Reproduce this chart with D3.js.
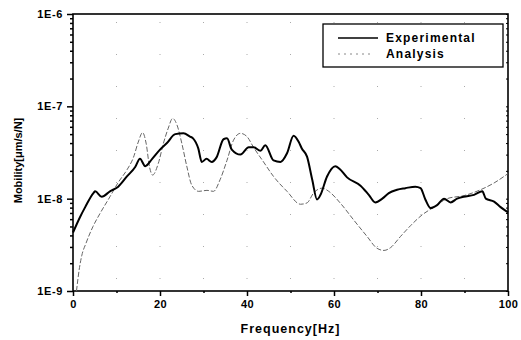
<!DOCTYPE html>
<html>
<head>
<meta charset="utf-8">
<script src="https://cdn.jsdelivr.net/npm/d3@7"></script>
<style>
  body { margin: 0; background: #fff; }
  text { font-family: "Liberation Sans", Arial, sans-serif; font-weight: bold; }
</style>
</head>
<body>
<div id="chart"></div>
<script>
const width = 521,
      height = 340;

const margin = { top: 14, right: 13, bottom: 49, left: 73 };

// Experimental mobility (Hz, m/s/N)
const expFreq = [0, 1.6, 2.8, 4.7, 5.1, 6.6, 8.5, 10.4, 12.4, 14.3, 15.4, 16.6, 18.2, 20,
  21.6, 23.5, 25.4, 26.9, 27.6, 28.8, 29.6, 30.7, 31.9, 33, 34.6, 35.4, 36.5, 38.5, 40.4,
  41.5, 43.1, 44.2, 46.1, 47.7, 49.2, 50.7, 51.9, 52.6, 53.8, 55, 56.1, 56.9, 58.4, 60.3,
  61.3, 63, 66.1, 68, 69.5, 71.1, 72.6, 74.5, 76.4, 78.7, 79.9, 81, 82.2, 83.7, 85.3, 86.8,
  88.3, 89.8, 92.2, 94.1, 94.9, 96.8, 98.3, 100];
const expVal = [4.3e-9, 6.3e-9, 8.1e-9, 1.15e-8, 1.2e-8, 1.05e-8, 1.2e-8, 1.35e-8, 1.74e-8, 2.2e-8,
  2.7e-8, 2.25e-8, 2.7e-8, 3.4e-8, 4e-8, 5e-8, 5.1e-8, 4.7e-8, 4.5e-8, 3.5e-8, 2.5e-8, 2.7e-8,
  2.5e-8, 2.8e-8, 4.4e-8, 4.5e-8, 3.4e-8, 3e-8, 3.6e-8, 3.6e-8, 3.3e-8, 3.8e-8, 2.6e-8, 2.5e-8,
  3.1e-8, 4.8e-8, 4.1e-8, 3.5e-8, 2.85e-8, 1.6e-8, 9.8e-9, 1.1e-8, 1.74e-8, 2.25e-8, 2.1e-8,
  1.7e-8, 1.38e-8, 1.1e-8, 9.1e-9, 1e-8, 1.15e-8, 1.25e-8, 1.3e-8, 1.35e-8, 1.3e-8, 9.8e-9,
  7.9e-9, 8.5e-9, 1e-8, 9.1e-9, 1e-8, 1.05e-8, 1.1e-8, 1.2e-8, 1e-8, 9.3e-9, 8.1e-9, 7.1e-9];

// Analysis mobility
const anaFreq = [0.8, 1.5, 2, 3, 4.6, 6.2, 8.5, 10.4, 12.4, 13.9, 15, 16, 16.8, 17.6, 18.3, 19.6,
  20.8, 21.9, 22.9, 23.9, 25, 26.2, 27.3, 28.9, 30.8, 32.3, 33.8, 35.4, 36.9, 38.5, 40, 41.5,
  43.8, 46.1, 49.2, 52.3, 53.8, 55.3, 57.3, 58.8, 61.5, 64.5, 67.6, 69.9, 71.5, 73, 75.3,
  77.6, 80.3, 83, 86, 89.9, 93.7, 96.8, 100];
const anaVal = [1e-9, 1.8e-9, 2.4e-9, 3.3e-9, 5e-9, 6.9e-9, 1.05e-8, 1.5e-8, 2.05e-8, 2.8e-8,
  4.1e-8, 5.2e-8, 4e-8, 2.2e-8, 1.8e-8, 2.4e-8, 4e-8, 5.8e-8, 7.4e-8, 6.3e-8, 4e-8, 2.2e-8,
  1.4e-8, 1.2e-8, 1.23e-8, 1.2e-8, 1.6e-8, 2.6e-8, 4.3e-8, 5.1e-8, 4.7e-8, 3.6e-8, 2.5e-8,
  1.74e-8, 1.2e-8, 8.7e-9, 9e-9, 1.15e-8, 1.3e-8, 1.2e-8, 8.9e-9, 5.9e-9, 3.9e-9, 2.9e-9,
  2.75e-9, 2.95e-9, 3.9e-9, 5.1e-9, 6.7e-9, 8.1e-9, 1e-8, 1.08e-8, 1.25e-8, 1.48e-8, 1.87e-8];

const xTicks = [0, 20, 40, 60, 80, 100];
const xMinorTicks = [10, 30, 50, 70, 90];
const yTicks = [1e-9, 1e-8, 1e-7, 1e-6];
const yTickLabels = ["1E-9", "1E-8", "1E-7", "1E-6"];

const x = d3.scaleLinear()
    .domain([0, 100])
    .range([margin.left, width - margin.right]);

const y = d3.scaleLog()
    .domain([1e-9, 1e-6])
    .range([height - margin.bottom, margin.top]);

const svg = d3.select("#chart")
  .append("svg")
    .attr("width", width)
    .attr("height", height);

// faint scanned grid dots
const grid = svg.append("g")
    .attr("stroke", "#aaa")
    .attr("stroke-width", 1)
    .attr("stroke-dasharray", "1,31");

grid.selectAll("line")
  .data(xMinorTicks.concat([20, 40, 60, 80]))
  .enter()
  .append("line")
    .attr("x1", d => x(d))
    .attr("x2", d => x(d))
    .attr("y1", y(1e-6) + 8)
    .attr("y2", y(1e-9) - 6);

// Axes
const yMinor = [];
for (let e = -9; e < -6; e++) {
  for (let k = 2; k <= 9; k++) yMinor.push(k * Math.pow(10, e));
}

svg.append("g")
    .attr("transform", `translate(${margin.left},0)`)
    .call(d3.axisLeft(y).tickValues(yMinor).tickSize(3).tickFormat(""))
    .call(g => g.select(".domain").remove())
    .call(g => g.selectAll("line").attr("stroke-width", 1.5));

svg.append("g")
    .attr("transform", `translate(${margin.left},0)`)
    .call(d3.axisLeft(y).tickValues(yTicks).tickSize(6).tickPadding(4)
        .tickFormat((d, i) => yTickLabels[i]))
    .call(g => g.select(".domain").remove())
    .call(g => g.selectAll("line").attr("stroke-width", 1.5))
    .call(g => g.selectAll("text").attr("font-size", 11).attr("letter-spacing", 0.6)
        .attr("font-family", "Liberation Sans, Arial, sans-serif"));

svg.append("g")
    .attr("transform", `translate(${width - margin.right},0)`)
    .call(d3.axisRight(y).tickValues(yMinor.concat(yTicks)).tickSize(-2).tickFormat(""))
    .call(g => g.select(".domain").remove());

svg.append("g")
    .attr("transform", `translate(0,${height - margin.bottom})`)
    .call(d3.axisBottom(x).tickValues(xMinorTicks).tickSize(2).tickFormat(""))
    .call(g => g.select(".domain").remove())
    .call(g => g.selectAll("line").attr("stroke-width", 1.5));

svg.append("g")
    .attr("transform", `translate(0,${height - margin.bottom})`)
    .call(d3.axisBottom(x).tickValues(xTicks).tickSize(5).tickPadding(4).tickFormat(d3.format("d")))
    .call(g => g.select(".domain").remove())
    .call(g => g.selectAll("line").attr("stroke-width", 1.5))
    .call(g => g.selectAll("text").attr("font-size", 11).attr("letter-spacing", 0.4)
        .attr("font-family", "Liberation Sans, Arial, sans-serif"));

// Frame
svg.append("rect")
    .attr("x", x(0))
    .attr("y", y(1e-6))
    .attr("width", x(100) - x(0))
    .attr("height", y(1e-9) - y(1e-6))
    .attr("fill", "none")
    .attr("stroke", "#000")
    .attr("stroke-width", 1.6);

// Lines
const expData = expFreq.map((f, i) => ({ f: f, v: expVal[i] }));
const anaData = anaFreq.map((f, i) => ({ f: f, v: anaVal[i] }));

const line = d3.line()
    .x(d => x(d.f))
    .y(d => y(d.v))
    .curve(d3.curveMonotoneX);

svg.append("path")
    .datum(anaData)
    .attr("fill", "none")
    .attr("stroke", "#666")
    .attr("stroke-width", 1)
    .attr("stroke-dasharray", "5,2")
    .attr("d", line);

svg.append("path")
    .datum(expData)
    .attr("fill", "none")
    .attr("stroke", "#000")
    .attr("stroke-width", 2)
    .attr("stroke-linejoin", "round")
    .attr("d", line);

// Legend
const legend = svg.append("g")
    .attr("transform", "translate(323,24)");

legend.append("rect")
    .attr("width", 180)
    .attr("height", 43)
    .attr("fill", "#fff")
    .attr("stroke", "#000")
    .attr("stroke-width", 1.3);

legend.append("line")
    .attr("x1", 15).attr("x2", 55)
    .attr("y1", 14).attr("y2", 14)
    .attr("stroke", "#000")
    .attr("stroke-width", 1.3);

legend.append("line")
    .attr("x1", 15).attr("x2", 47)
    .attr("y1", 30).attr("y2", 30)
    .attr("stroke", "#888")
    .attr("stroke-width", 1)
    .attr("stroke-dasharray", "2,4");

legend.append("text")
    .attr("x", 63).attr("y", 14)
    .attr("dy", "0.35em")
    .attr("font-size", 12)
    .attr("letter-spacing", 1.2)
    .text("Experimental");

legend.append("text")
    .attr("x", 63).attr("y", 30)
    .attr("dy", "0.35em")
    .attr("font-size", 12)
    .attr("letter-spacing", 1.2)
    .text("Analysis");

// Axis titles
svg.append("text")
    .attr("x", (x(0) + x(100)) / 2)
    .attr("y", 329)
    .attr("text-anchor", "middle")
    .attr("dy", "0.35em")
    .attr("font-size", 12.5)
    .attr("letter-spacing", 1)
    .text("Frequency[Hz]");

svg.append("text")
    .attr("transform", `translate(18,${(y(1e-6) + y(1e-9)) / 2 + 8}) rotate(-90)`)
    .attr("text-anchor", "middle")
    .attr("dy", "0.35em")
    .attr("font-size", 11)
    .text("Mobility[\u03bcm/s/N]");
</script>
</body>
</html>
